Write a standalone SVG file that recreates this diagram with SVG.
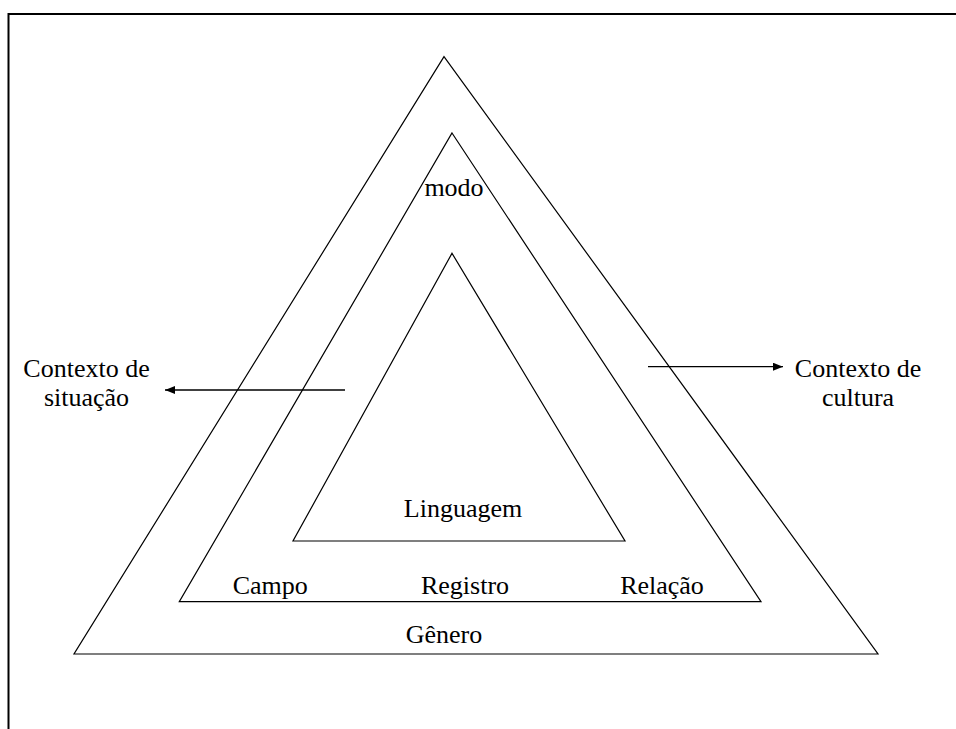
<svg xmlns="http://www.w3.org/2000/svg" width="956" height="729" viewBox="0 0 956 729">
<defs>
<style>
.t{font-family:"Liberation Serif","Times New Roman",serif;font-size:26px;fill:#000}
.tri{fill:none;stroke:#000;stroke-width:1.2;stroke-linejoin:miter}
.ar{stroke:#000;stroke-width:1.3;fill:none}
</style>
<marker id="ah" viewBox="0 0 10 8" refX="10" refY="4" markerWidth="10" markerHeight="8" markerUnits="userSpaceOnUse" orient="auto">
<path d="M0,0 L10,4 L0,8 Z" fill="#000"/>
</marker>
</defs>
<rect width="956" height="729" fill="#fff"/>
<g id="frame">
<path d="M8.5,729 V14 H956" fill="none" stroke="#000" stroke-width="2"/>
</g>
<g id="genero">
<polygon class="tri" points="444,56.7 878,654 74,654"/>
<text class="t" x="444" y="643" text-anchor="middle">Gênero</text>
</g>
<g id="registro">
<polygon class="tri" points="452,133 761,601.7 179.3,601.7"/>
<text class="t" x="454" y="196" text-anchor="middle">modo</text>
<text class="t" x="232.7" y="594">Campo</text>
<text class="t" x="465" y="594" text-anchor="middle">Registro</text>
<text class="t" x="662" y="594" text-anchor="middle">Relação</text>
</g>
<g id="linguagem">
<polygon class="tri" points="452,253.3 625,541 293,541"/>
<text class="t" x="463" y="517" text-anchor="middle">Linguagem</text>
</g>
<g id="contexto-situacao">
<text class="t" x="86.5" y="377" text-anchor="middle">Contexto de</text>
<text class="t" x="86.5" y="406" text-anchor="middle">situação</text>
</g>
<g id="contexto-cultura">
<text class="t" x="858" y="377" text-anchor="middle">Contexto de</text>
<text class="t" x="858" y="406" text-anchor="middle">cultura</text>
</g>
<g id="connectors">
<line class="ar" x1="345" y1="390" x2="165" y2="390" marker-end="url(#ah)"/>
<line class="ar" x1="648" y1="366.7" x2="783" y2="366.7" marker-end="url(#ah)"/>
</g>
</svg>
